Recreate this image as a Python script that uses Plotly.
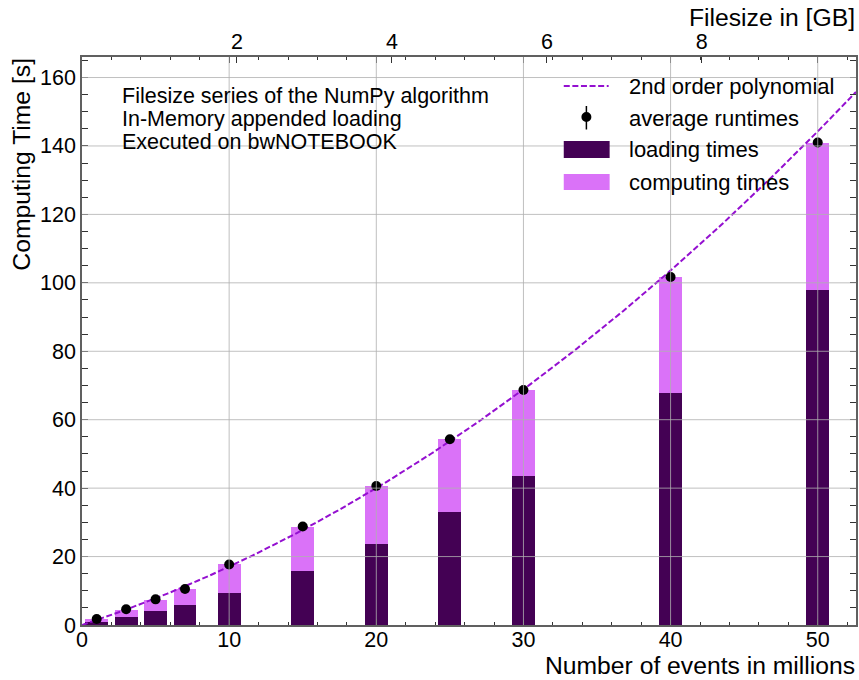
import numpy as np
import plotly.graph_objects as go

# Number of events (millions) per run
events = [1, 3, 5, 7, 10, 15, 20, 25, 30, 40, 50]
# Mean loading time per run [s]
loading = [1.0, 2.4, 4.2, 5.9, 9.45, 15.9, 23.7, 33.0, 43.5, 67.9, 97.9]
# Mean total runtime per run [s]
total = [1.8, 4.5, 7.4, 10.5, 17.9, 28.7, 40.6, 54.4, 68.7, 101.6, 140.8]
# Average runtime measurements and their spread [s]
avg_runtime = [1.75, 4.6, 7.5, 10.5, 17.7, 28.8, 40.6, 54.3, 68.7, 101.7, 141.0]
avg_err = [0.4, 0.5, 0.5, 0.6, 0.7, 0.8, 0.9, 1.0, 1.0, 1.2, 1.4]
# Second-order polynomial fit coefficients (a*x^2 + b*x + c)
fit_coeffs = [0.0295, 1.41, 0.0]
# File-size ticks on the top axis [GB]
gb_ticks = [2, 4, 6, 8]

computing = [t - l for t, l in zip(total, loading)]

X_MAX = 52.6
Y_MAX = 166
GB_PER_MEVENT = 9.99 / X_MAX

DARK = "#440154"
LIGHT = "#DA72F8"
FIT = "#9410D0"
FONT = "Liberation Sans, Arial, sans-serif"

x_fit = np.linspace(0, X_MAX, 300)
y_fit = np.polyval(fit_coeffs, x_fit)

fig = go.Figure()
fig.add_trace(go.Bar(x=events, y=loading, width=1.55, marker=dict(color=DARK, line=dict(width=0)),
                     name="loading times", showlegend=False))
fig.add_trace(go.Bar(x=events, y=computing, width=1.55, marker=dict(color=LIGHT, line=dict(width=0)),
                     name="computing times", showlegend=False))
fig.add_trace(go.Scatter(x=x_fit, y=y_fit, mode="lines", line=dict(color=FIT, width=2, dash="6px,2.6px"),
                         name="2nd order polynomial", showlegend=False))
fig.add_trace(go.Scatter(x=events, y=avg_runtime, mode="markers",
                         marker=dict(color="black", size=10),
                         error_y=dict(type="data", array=avg_err, color="black", thickness=1.5, width=0),
                         name="average runtimes", showlegend=False))

# Grid drawn on top of the bars
shapes = []
for gx in [10, 20, 30, 40, 50]:
    shapes.append(dict(type="line", xref="x", yref="paper", x0=gx, x1=gx, y0=0, y1=1,
                       line=dict(color="rgba(176,176,176,0.8)", width=1), layer="above"))
for gy in [20, 40, 60, 80, 100, 120, 140, 160]:
    shapes.append(dict(type="line", xref="paper", yref="y", x0=0, x1=1, y0=gy, y1=gy,
                       line=dict(color="rgba(176,176,176,0.8)", width=1), layer="above"))

# Legend built from shapes and labels
L, T, W, H = 82, 57, 776, 568
def px(x):
    return (x - L) / W
def py(y):
    return (T + H - y) / H

shapes += [
    dict(type="line", xref="paper", yref="paper", x0=px(565), x1=px(610), y0=py(86), y1=py(86),
         line=dict(color=FIT, width=2, dash="6px,2.6px")),
    dict(type="line", xref="paper", yref="paper", x0=px(587.7), x1=px(587.7), y0=py(106), y1=py(129.5),
         line=dict(color="black", width=1.5)),
    dict(type="circle", xref="paper", yref="paper", x0=px(582.7), x1=px(592.7), y0=py(112), y1=py(122),
         fillcolor="black", line=dict(width=0)),
    dict(type="rect", xref="paper", yref="paper", x0=px(565), x1=px(611), y0=py(141), y1=py(158),
         fillcolor=DARK, line=dict(width=0)),
    dict(type="rect", xref="paper", yref="paper", x0=px(565), x1=px(611), y0=py(174), y1=py(190),
         fillcolor=LIGHT, line=dict(width=0)),
]

annotations = []
for label, yy in [("2nd order polynomial", 86), ("average runtimes", 118),
                  ("loading times", 150), ("computing times", 182)]:
    annotations.append(dict(text=label, xref="paper", yref="paper", x=px(628), y=py(yy),
                            xanchor="left", yanchor="middle", showarrow=False,
                            font=dict(size=22, color="black", family=FONT)))
for line, yy in [("Filesize series of the NumPy algorithm", 96),
                 ("In-Memory appended loading", 119),
                 ("Executed on bwNOTEBOOK", 142)]:
    annotations.append(dict(text=line, xref="paper", yref="paper", x=px(120), y=py(yy),
                            xanchor="left", yanchor="middle", showarrow=False,
                            font=dict(size=21.5, color="black", family=FONT)))
annotations += [
    dict(text="Number of events in millions", xref="paper", yref="paper", x=px(859), y=py(665),
         xanchor="right", yanchor="middle", showarrow=False, font=dict(size=24.7, color="black", family=FONT)),
    dict(text="Filesize in [GB]", xref="paper", yref="paper", x=px(859), y=py(17),
         xanchor="right", yanchor="middle", showarrow=False, font=dict(size=24.7, color="black", family=FONT)),
    dict(text="Computing Time [s]", xref="paper", yref="paper", x=px(21), y=py(56),
         xanchor="center", yanchor="top", textangle=-90, showarrow=False,
         font=dict(size=24.7, color="black", family=FONT)),
]

axis_common = dict(showgrid=False, zeroline=False, showline=True, linecolor="#606060", linewidth=1.5,
                   ticks="inside", ticklen=6, tickwidth=1, tickcolor="#333",
                   tickfont=dict(size=21.5, color="black", family=FONT))

fig.update_layout(
    barmode="stack",
    width=859, height=680,
    margin=dict(l=L, r=859 - L - W, t=T, b=680 - T - H),
    paper_bgcolor="white", plot_bgcolor="white",
    showlegend=False,
    xaxis=dict(range=[0, X_MAX], tickmode="linear", tick0=0, dtick=10, mirror="allticks",
               minor=dict(ticks="inside", ticklen=3.5, dtick=2, tickcolor="#333", showgrid=False),
               ticklabelstandoff=-6, **axis_common),
    yaxis=dict(range=[0, Y_MAX], tickmode="linear", tick0=0, dtick=20, mirror="allticks",
               minor=dict(ticks="inside", ticklen=3.5, dtick=5, tickcolor="#333", showgrid=False),
               **axis_common),
    xaxis2=dict(range=[0, X_MAX * GB_PER_MEVENT], overlaying="x", side="top", anchor="y",
                tickmode="array", tickvals=gb_ticks, showgrid=False, zeroline=False, showline=False,
                ticks="inside", ticklen=6, tickcolor="#333", ticklabelstandoff=3,
                tickfont=dict(size=21.5, color="black", family=FONT)),
    shapes=shapes,
    annotations=annotations,
)
# Invisible trace to bind the file-size axis
fig.add_trace(go.Scatter(x=[0, X_MAX * GB_PER_MEVENT], y=[None, None], xaxis="x2", yaxis="y",
                         mode="markers", showlegend=False, hoverinfo="skip"))

fig.write_html("out.html")
